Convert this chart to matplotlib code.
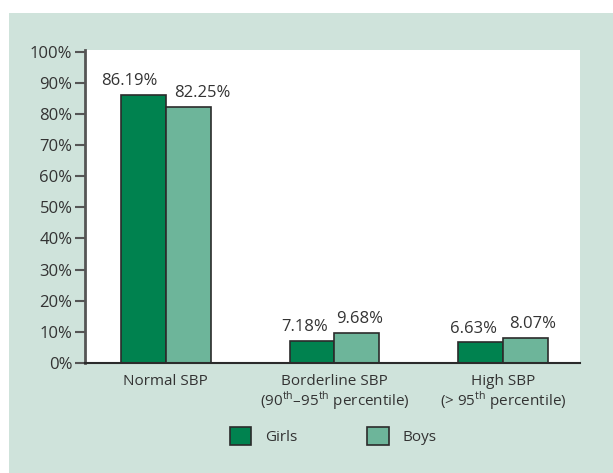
import matplotlib
matplotlib.use("Agg")
import matplotlib.pyplot as plt
import numpy as np
from matplotlib.patches import Rectangle, Patch

plt.rcParams['font.family'] = ['Open Sans', 'DejaVu Sans']
plt.rcParams['mathtext.fontset'] = 'custom'
plt.rcParams['mathtext.rm'] = 'Open Sans'

# 数据
categories = ["Normal SBP",
              "Borderline SBP\n(90$^{\\rm th}$\u201395$^{\\rm th}$ percentile)",
              "High SBP\n(> 95$^{\\rm th}$ percentile)"]
girls = [86.19, 7.18, 6.63]
boys = [82.25, 9.68, 8.07]
yticks = [0, 10, 20, 30, 40, 50, 60, 70, 80, 90, 100]

c_girls = '#00824f'
c_boys = '#6db59a'
c_bg = '#cfe3db'
c_text = '#333333'

fig = plt.figure(figsize=(6.13, 4.73), dpi=100)
fig.patch.set_facecolor('white')
# 背景绿色面板
fig.patches.append(Rectangle((9 / 613, 0), 1 - 9 / 613, 1 - 13 / 473,
                             transform=fig.transFigure, facecolor=c_bg,
                             edgecolor='none', zorder=-10))

ax = fig.add_axes([85 / 613, 110 / 473, 495 / 613, 313 / 473])
ax.set_facecolor('white')

x = np.arange(len(categories))
w = 0.266
b1 = ax.bar(x - w / 2, girls, w, color=c_girls, edgecolor='#2b2b2b', linewidth=1.2, label='Girls')
b2 = ax.bar(x + w / 2, boys, w, color=c_boys, edgecolor='#2b2b2b', linewidth=1.2, label='Boys')

# 数值标签 (水平偏移, 单位: points)
shift_girls = [-10, -5, -5]
shift_boys = [10, 2, 5]
for bars, vals, shifts in [(b1, girls, shift_girls), (b2, boys, shift_boys)]:
    for r, v, dx in zip(bars, vals, shifts):
        ax.annotate(f"{v:.2f}%", (r.get_x() + r.get_width() / 2, r.get_height()),
                    xytext=(dx, 4), textcoords='offset points', ha='center', va='bottom',
                    fontsize=12, color=c_text)

ax.set_xlim(-0.479, 2.456)
ax.set_ylim(0, 100.5)
ax.set_yticks(yticks)
ax.set_yticklabels([f"{t}%" for t in yticks], fontsize=12, color=c_text)
ax.set_xticks(x)
ax.set_xticklabels(categories, fontsize=11, color=c_text, linespacing=1.0)
ax.tick_params(axis='x', length=0, pad=8)
ax.tick_params(axis='y', length=7, width=1.5, color='#555555', pad=2)

for s in ['top', 'right']:
    ax.spines[s].set_visible(False)
ax.spines['left'].set_color('#555555')
ax.spines['left'].set_linewidth(2)
ax.spines['bottom'].set_color('#2b2b2b')
ax.spines['bottom'].set_linewidth(1.5)

handles = [Patch(facecolor=c_girls, edgecolor='#2b2b2b', linewidth=1.2, label='Girls'),
           Patch(facecolor=c_boys, edgecolor='#2b2b2b', linewidth=1.2, label='Boys')]
fig.legend(handles=handles, ncol=2, loc='center left',
           bbox_to_anchor=(216 / 613, 1 - 436 / 473), frameon=False,
           fontsize=11, handlelength=1.4, handleheight=1.45,
           handletextpad=0.9, columnspacing=4.6, labelcolor=c_text)

fig.savefig('out.png', dpi=100, facecolor=fig.get_facecolor())
